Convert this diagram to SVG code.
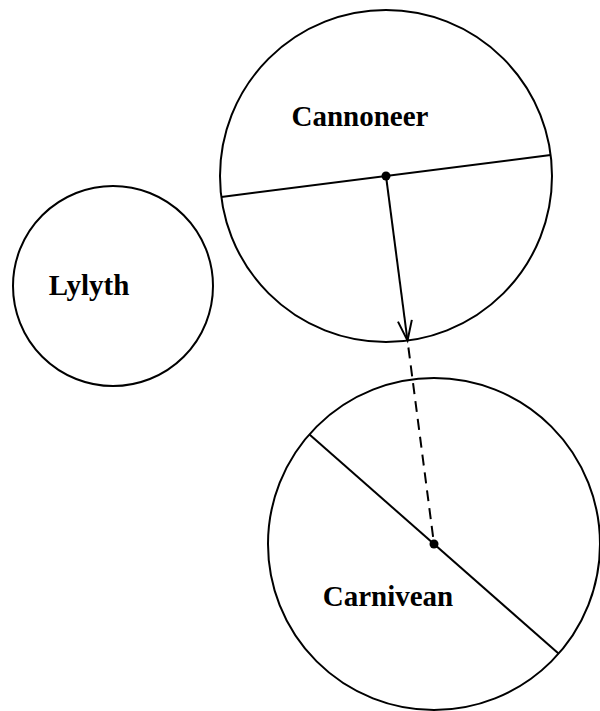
<svg xmlns="http://www.w3.org/2000/svg" width="600" height="711" viewBox="0 0 600 711">
<style>
.node{fill:none;stroke:#000;stroke-width:2}
.lbl{font-family:"Liberation Serif",serif;font-weight:bold;font-size:29px;fill:#000;text-anchor:middle}
.edge{fill:none;stroke:#000;stroke-width:2}
.dash{stroke-dasharray:11,7}
</style>
<defs>
<marker id="arr" markerUnits="userSpaceOnUse" markerWidth="24" markerHeight="18" refX="21" refY="8" orient="auto" viewBox="0 0 24 18">
<path d="M1,1 L21,8 L1,15" fill="none" stroke="#000" stroke-width="2"/>
</marker>
</defs>
<rect width="600" height="711" fill="#fff"/>
<g id="Cannoneer">
<circle class="node" cx="386" cy="176" r="166"/>
<line class="edge" x1="221.3" y1="196.9" x2="550.7" y2="155.1"/>
<text class="lbl" x="360" y="126">Cannoneer</text>
</g>
<g id="Lylyth">
<circle class="node" cx="113" cy="286" r="100"/>
<text class="lbl" x="89" y="295">Lylyth</text>
</g>
<g id="Carnivean">
<circle class="node" cx="434" cy="544" r="166"/>
<line class="edge" x1="309.2" y1="434.3" x2="558.8" y2="653.7"/>
<text class="lbl" x="388" y="606">Carnivean</text>
</g>
<g id="connectors">
<line class="edge" x1="386" y1="176" x2="407.5" y2="340.6" marker-end="url(#arr)"/>
<line class="edge dash" x1="408.4" y1="347.5" x2="434" y2="544"/>
<circle cx="386" cy="176" r="4.5" fill="#000"/>
<circle cx="434" cy="544" r="4.5" fill="#000"/>
</g>
</svg>
